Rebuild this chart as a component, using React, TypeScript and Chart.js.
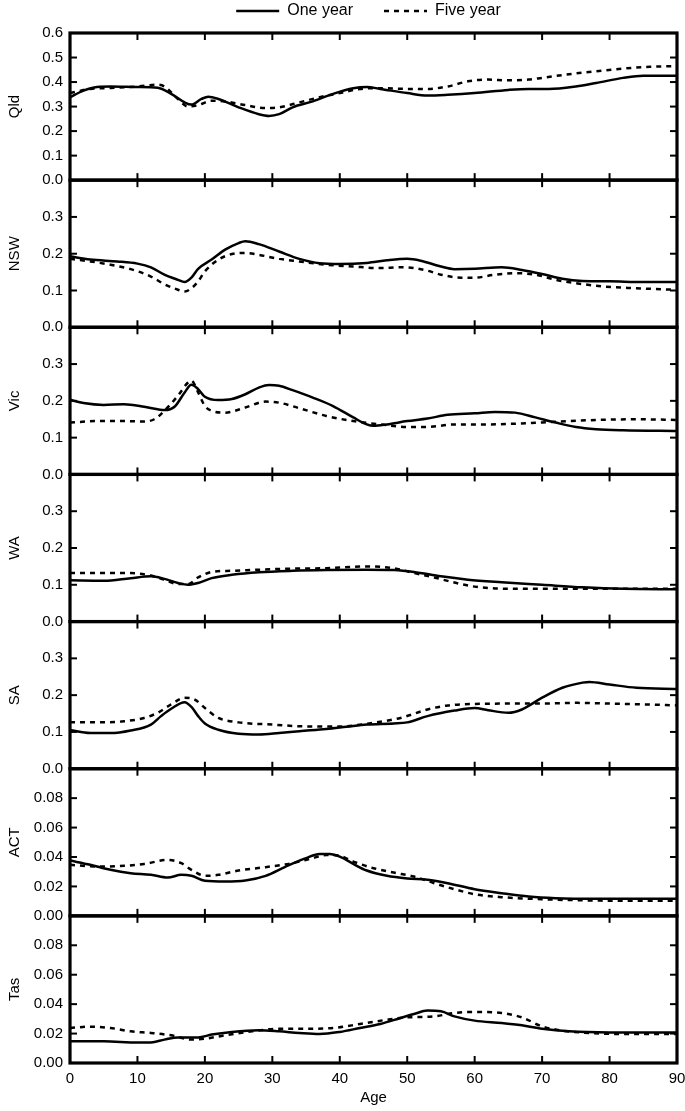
import React, { useEffect, useRef } from "react";
import { Chart, registerables } from "chart.js";

Chart.register(...registerables);

const PANELS = ["Qld", "NSW", "Vic", "WA", "SA", "ACT", "Tas"];
const Y_MAX = [0.6, 0.4, 0.4, 0.4, 0.4, 0.1, 0.1];
const Y_STEP = [0.1, 0.1, 0.1, 0.1, 0.1, 0.02, 0.02];
const Y_DECIMALS = [1, 1, 1, 1, 1, 2, 2];
const X_TICKS = [0, 10, 20, 30, 40, 50, 60, 70, 80, 90];
const SERIES_LABELS = ["One year", "Five year"];

const QLD_ONE_AGE = [0, 2, 4, 6, 10, 13, 15, 17, 18, 19.5, 20.5, 22, 25, 28, 29.5, 31, 33, 36, 39, 42, 44, 46, 50, 53, 56, 60, 65, 68, 71, 75, 78, 82, 85, 90];
const QLD_ONE = [0.338, 0.365, 0.38, 0.382, 0.38, 0.377, 0.352, 0.317, 0.308, 0.331, 0.34, 0.331, 0.297, 0.269, 0.262, 0.269, 0.297, 0.321, 0.352, 0.375, 0.38, 0.372, 0.355, 0.345, 0.348, 0.355, 0.368, 0.372, 0.372, 0.382, 0.396, 0.417, 0.426, 0.426];
const QLD_FIVE_AGE = [0, 3, 6, 10, 13, 14, 16, 17.5, 19, 21, 23, 26, 29, 31, 34, 37, 40, 43, 46, 50, 53, 56, 59, 62, 65, 68, 70, 74, 78, 82, 86, 90];
const QLD_FIVE = [0.355, 0.372, 0.376, 0.382, 0.389, 0.382, 0.331, 0.3, 0.306, 0.324, 0.321, 0.306, 0.294, 0.297, 0.317, 0.338, 0.355, 0.372, 0.375, 0.372, 0.372, 0.382, 0.403, 0.41, 0.407, 0.41, 0.417, 0.432, 0.444, 0.455, 0.462, 0.465];

const NSW_ONE_AGE = [0, 3, 7, 10, 12, 14, 16, 17, 18, 19, 21, 23, 25, 26, 28, 31, 34, 37, 40, 44, 47, 50, 52, 55, 57, 60, 64, 67, 70, 73, 76, 80, 85, 90];
const NSW_ONE = [0.193, 0.184, 0.179, 0.173, 0.163, 0.143, 0.129, 0.123, 0.135, 0.159, 0.184, 0.211, 0.229, 0.234, 0.226, 0.206, 0.186, 0.174, 0.172, 0.175, 0.182, 0.186, 0.181, 0.165, 0.158, 0.159, 0.163, 0.156, 0.145, 0.132, 0.126, 0.125, 0.123, 0.123];
const NSW_FIVE_AGE = [0, 3, 6, 9, 12, 14, 16, 17, 18, 19, 20, 22, 24, 26, 28, 31, 34, 38, 42, 46, 49, 51, 53, 55, 58, 60, 63, 66, 69, 72, 75, 79, 84, 90];
const NSW_FIVE = [0.186, 0.179, 0.17, 0.158, 0.138, 0.117, 0.102, 0.097, 0.106, 0.125, 0.152, 0.184, 0.199, 0.202, 0.197, 0.186, 0.179, 0.17, 0.165, 0.161, 0.163, 0.161, 0.154, 0.143, 0.135, 0.135, 0.143, 0.147, 0.143, 0.129, 0.12, 0.111, 0.106, 0.102];

const VIC_ONE_AGE = [0, 2, 5, 8, 11, 13, 14, 15.5, 17, 18, 19, 20, 22, 24, 26, 28, 29.5, 31, 33, 36, 39, 42, 44, 45, 47, 50, 53, 56, 60, 63, 66, 69, 72, 75, 78, 82, 90];
const VIC_ONE = [0.203, 0.194, 0.189, 0.191, 0.184, 0.177, 0.175, 0.184, 0.223, 0.244, 0.232, 0.211, 0.202, 0.205, 0.218, 0.236, 0.243, 0.241, 0.229, 0.209, 0.186, 0.155, 0.136, 0.132, 0.136, 0.145, 0.152, 0.162, 0.166, 0.17, 0.168, 0.155, 0.141, 0.129, 0.123, 0.12, 0.118];
const VIC_FIVE_AGE = [0, 4, 8, 11, 12.5, 14, 16, 17.5, 18, 19, 20, 21, 23, 26, 29, 31, 34, 38, 42, 46, 50, 53, 57, 62, 66, 70, 74, 78, 84, 90];
const VIC_FIVE = [0.141, 0.145, 0.145, 0.144, 0.15, 0.173, 0.214, 0.25, 0.255, 0.223, 0.186, 0.173, 0.168, 0.182, 0.198, 0.195, 0.18, 0.159, 0.145, 0.136, 0.129, 0.129, 0.136, 0.136, 0.138, 0.141, 0.145, 0.148, 0.15, 0.148];

const WA_ONE_AGE = [0, 5, 9, 12, 14, 16, 17.5, 19, 21, 24, 28, 33, 38, 44, 48, 51, 55, 59, 64, 70, 76, 82, 90];
const WA_ONE = [0.112, 0.111, 0.118, 0.123, 0.116, 0.105, 0.1, 0.105, 0.118, 0.127, 0.134, 0.138, 0.14, 0.141, 0.14, 0.135, 0.123, 0.114, 0.107, 0.1, 0.093, 0.089, 0.088];
const WA_FIVE_AGE = [0, 5, 9, 12, 14, 16, 17.5, 19, 21, 24, 28, 33, 38, 44, 48, 51, 54, 57, 60, 65, 70, 78, 85, 90];
const WA_FIVE = [0.132, 0.132, 0.132, 0.125, 0.114, 0.102, 0.102, 0.12, 0.135, 0.138, 0.141, 0.144, 0.145, 0.15, 0.145, 0.132, 0.12, 0.106, 0.095, 0.089, 0.089, 0.089, 0.089, 0.089];

const SA_ONE_AGE = [0, 3, 6, 9, 12, 13.5, 15, 17, 18, 19, 20, 22, 25, 28, 31, 34, 38, 41, 44, 48, 50, 53, 57, 60, 62, 65, 67, 70, 73, 76, 77, 80, 84, 90];
const SA_ONE = [0.105, 0.097, 0.097, 0.104, 0.12, 0.143, 0.163, 0.181, 0.168, 0.143, 0.123, 0.106, 0.095, 0.093, 0.097, 0.102, 0.108, 0.114, 0.12, 0.123, 0.126, 0.143, 0.158, 0.165, 0.159, 0.152, 0.161, 0.193, 0.22, 0.234, 0.236, 0.229, 0.22, 0.217];
const SA_FIVE_AGE = [0, 4, 8, 11, 13, 15, 17, 18.5, 20, 22, 25, 30, 35, 40, 45, 49, 53, 56, 60, 65, 70, 75, 80, 85, 90];
const SA_FIVE = [0.126, 0.126, 0.129, 0.138, 0.152, 0.175, 0.193, 0.188, 0.165, 0.138, 0.126, 0.12, 0.115, 0.115, 0.125, 0.138, 0.161, 0.172, 0.176, 0.177, 0.177, 0.179, 0.177, 0.175, 0.172];

const ACT_ONE_AGE = [0, 3, 6, 9, 12, 14.5, 16.5, 18, 20, 23, 26, 29, 32, 35, 37, 38.5, 40, 42, 44, 47, 50, 53, 56, 60, 64, 68, 72, 78, 84, 90];
const ACT_ONE = [0.0376, 0.0347, 0.0313, 0.029, 0.0279, 0.026, 0.0279, 0.0272, 0.0238, 0.0233, 0.024, 0.0272, 0.0335, 0.0392, 0.0421, 0.0421, 0.0403, 0.0353, 0.0308, 0.0272, 0.0254, 0.0245, 0.0222, 0.0181, 0.0154, 0.0131, 0.012, 0.0116, 0.0116, 0.0116];
const ACT_FIVE_AGE = [0, 4, 8, 11, 14.5, 16.5, 18, 20, 22, 25, 29, 33, 36, 38, 40, 42, 45, 48, 51, 54, 57, 60, 64, 70, 78, 85, 90];
const ACT_FIVE = [0.0347, 0.0335, 0.034, 0.0353, 0.038, 0.0358, 0.0313, 0.0272, 0.0279, 0.0308, 0.0331, 0.0358, 0.0392, 0.0414, 0.0408, 0.0369, 0.0324, 0.0294, 0.0267, 0.0222, 0.0181, 0.0147, 0.0127, 0.0113, 0.0104, 0.0102, 0.0102];

const TAS_ONE_AGE = [0, 5, 10, 12, 14, 16, 19, 21, 24, 28, 31, 34, 37, 40, 43, 46, 49, 51, 53, 55, 57, 60, 64, 67, 70, 74, 80, 90];
const TAS_ONE = [0.0147, 0.0147, 0.014, 0.014, 0.0159, 0.0174, 0.0174, 0.0193, 0.0211, 0.0222, 0.0215, 0.0204, 0.0197, 0.0211, 0.0238, 0.0265, 0.0306, 0.0333, 0.0356, 0.0351, 0.0317, 0.0288, 0.0272, 0.0256, 0.0233, 0.0215, 0.0208, 0.0208];
const TAS_FIVE_AGE = [0, 3, 6, 9, 12, 15, 18, 20, 23, 27, 31, 35, 39, 43, 47, 50, 54, 57, 60, 64, 67, 70, 73, 77, 82, 90];
const TAS_FIVE = [0.0238, 0.0247, 0.0238, 0.0215, 0.0204, 0.0188, 0.0159, 0.0165, 0.0188, 0.0215, 0.0233, 0.0233, 0.0238, 0.0265, 0.0294, 0.031, 0.0317, 0.034, 0.0347, 0.034, 0.031, 0.0249, 0.022, 0.0204, 0.0197, 0.0197];

const SERIES: [number[], number[], number[], number[]][] = [
  [QLD_ONE_AGE, QLD_ONE, QLD_FIVE_AGE, QLD_FIVE],
  [NSW_ONE_AGE, NSW_ONE, NSW_FIVE_AGE, NSW_FIVE],
  [VIC_ONE_AGE, VIC_ONE, VIC_FIVE_AGE, VIC_FIVE],
  [WA_ONE_AGE, WA_ONE, WA_FIVE_AGE, WA_FIVE],
  [SA_ONE_AGE, SA_ONE, SA_FIVE_AGE, SA_FIVE],
  [ACT_ONE_AGE, ACT_ONE, ACT_FIVE_AGE, ACT_FIVE],
  [TAS_ONE_AGE, TAS_ONE, TAS_FIVE_AGE, TAS_FIVE],
];

const FONT = "'Liberation Sans', Arial, Helvetica, sans-serif";
const DASH = [5, 5];
const LEGEND_PAD = 31;
const LEGEND_SHIFT_X = 26;

const toPoints = (ages: number[], vals: number[]) => ages.map((a, i) => ({ x: a, y: vals[i] }));

export default function App() {
  const ref = useRef<HTMLCanvasElement | null>(null);

  useEffect(() => {
    if (!ref.current) return;
    Chart.defaults.color = "#000";
    Chart.defaults.font.family = FONT;

    const datasets: any[] = [];
    SERIES.forEach((s, p) => {
      datasets.push({
        label: SERIES_LABELS[0],
        data: toPoints(s[0], s[1]),
        xAxisID: "x",
        yAxisID: "y" + p,
        borderColor: "#000",
        backgroundColor: "#000",
        borderWidth: 2.5,
        pointRadius: 0,
        tension: 0.4,
        cubicInterpolationMode: "monotone",
        fill: false,
      });
      datasets.push({
        label: SERIES_LABELS[1],
        data: toPoints(s[2], s[3]),
        xAxisID: "x",
        yAxisID: "y" + p,
        borderColor: "#000",
        backgroundColor: "#000",
        borderWidth: 2.5,
        borderDash: DASH,
        pointRadius: 0,
        tension: 0.4,
        cubicInterpolationMode: "monotone",
        fill: false,
      });
    });

    const scales: any = {
      x: {
        type: "linear",
        position: "bottom",
        min: 0,
        max: 90,
        afterBuildTicks: (scale: any) => {
          scale.ticks = X_TICKS.map((v) => ({ value: v }));
        },
        afterFit: (scale: any) => {
          scale.paddingRight = 8;
          scale.height = scale.height - 9;
        },
        ticks: { font: { size: 15 }, color: "#000", padding: 7, autoSkip: false, maxRotation: 0 },
        grid: { display: false, drawTicks: false },
        border: { display: false },
        title: { display: true, text: "Age", font: { size: 15 }, color: "#000", padding: { top: 3, bottom: 2 } },
      },
    };
    for (let p = PANELS.length - 1; p >= 0; p--) {
      const name = PANELS[p];
      scales["y" + p] = {
        type: "linear",
        position: "left",
        stack: "panels",
        stackWeight: 1,
        offset: false,
        min: 0,
        max: Y_MAX[p],
        afterFit: (scale: any) => {
          scale.width = 70;
        },
        ticks: {
          stepSize: Y_STEP[p],
          autoSkip: false,
          font: { size: 15 },
          color: "#000",
          padding: 7,
          callback: (v: any) => {
            const n = Number(v);
            if (p > 0 && Math.abs(n - Y_MAX[p]) < 1e-9) return "";
            return n.toFixed(Y_DECIMALS[p]);
          },
        },
        grid: { display: false, drawTicks: false },
        border: { display: false },
        title: { display: true, text: name, font: { size: 15 }, color: "#000", padding: { top: 6, bottom: 0 } },
      };
    }

    const framePlugin = {
      id: "frames",
      beforeInit(chart: any) {
        const legend = chart.legend;
        if (legend) {
          const origFit = legend.fit;
          legend.fit = function () {
            origFit.call(this);
            this.height = 33;
          };
          const origDraw = legend.draw;
          legend.draw = function () {
            const t = this.top;
            const l = this.left;
            const r = this.right;
            this.top = t - (LEGEND_PAD - 3);
            this.left = l + 2 * LEGEND_SHIFT_X;
            this.right = r;
            origDraw.call(this);
            this.top = t;
            this.left = l;
            this.right = r;
          };
        }
      },
      afterDraw(chart: any) {
        const ctx = chart.ctx;
        const { left, right } = chart.chartArea;
        const xs = chart.scales.x;
        const tl = 7;
        ctx.save();
        ctx.strokeStyle = "#000";
        const line = (x1: number, y1: number, x2: number, y2: number) => {
          ctx.beginPath();
          ctx.moveTo(x1, y1);
          ctx.lineTo(x2, y2);
          ctx.stroke();
        };
        PANELS.forEach((_, p) => {
          const ys = chart.scales["y" + p];
          ctx.lineWidth = 2;
          ys.ticks.forEach((t: any) => {
            const py = ys.getPixelForValue(t.value);
            if (py <= ys.top + 1 || py >= ys.bottom - 1) return;
            line(left, py, left + tl, py);
            line(right - tl, py, right, py);
          });
          X_TICKS.forEach((v) => {
            const px = xs.getPixelForValue(v);
            if (px <= left + 1 || px >= right - 1) return;
            line(px, ys.top, px, ys.top + tl);
            line(px, ys.bottom - tl, px, ys.bottom);
          });
          ctx.lineWidth = 3.2;
          ctx.strokeRect(left, ys.top, right - left, ys.bottom - ys.top);
        });
        ctx.restore();
      },
    };

    const chart = new Chart(ref.current, {
      type: "line",
      data: { datasets },
      options: {
        animation: false,
        responsive: true,
        maintainAspectRatio: false,
        layout: { padding: { top: 0, right: 0, bottom: 2, left: 0 } },
        plugins: {
          legend: {
            display: true,
            position: "top",
            labels: {
              usePointStyle: true,
              pointStyle: "line",
              pointStyleWidth: 43,
              font: { size: 16 },
              color: "#000",
              padding: LEGEND_PAD,
              filter: (item: any) => item.datasetIndex < 2,
              generateLabels: (chart: any) => {
                const items = Chart.defaults.plugins.legend.labels.generateLabels(chart);
                return items.map((it: any) => ({
                  ...it,
                  lineDash: it.datasetIndex % 2 === 1 ? DASH : [],
                  lineWidth: 2.5,
                  strokeStyle: "#000",
                }));
              },
            },
          },
          tooltip: { enabled: false },
        },
        scales,
      } as any,
      plugins: [framePlugin],
    });
    return () => chart.destroy();
  }, []);

  return (
    <div style={{ position: "absolute", left: 0, top: 0, width: 685, height: 1111 }}>
      <canvas ref={ref} />
    </div>
  );
}
